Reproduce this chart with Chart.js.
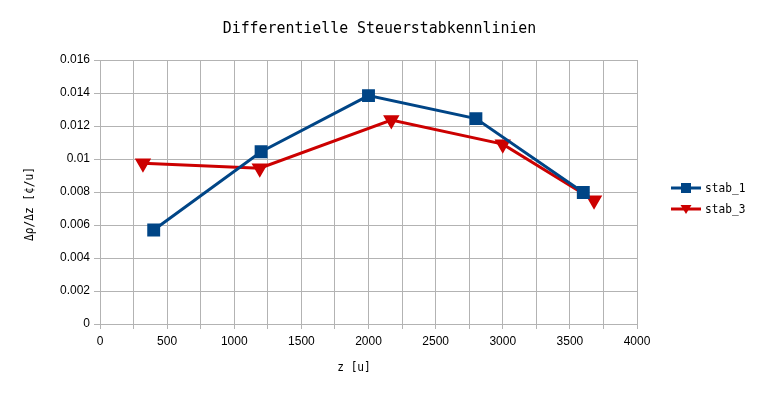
<!DOCTYPE html>
<html>
<head>
<meta charset="utf-8">
<script src="https://cdn.jsdelivr.net/npm/chart.js@4/dist/chart.umd.min.js"></script>
<style>
    html, body { margin: 0; padding: 0; background: #fff; }
    #chart { display: block; }
</style>
</head>
<body>
<canvas id="chart" width="759" height="398"></canvas>
<script>
// Data
const chartTitle = 'Differentielle Steuerstabkennlinien';
const xTitle = 'z [u]';
const yTitle = '\u0394\u03c1/\u0394z [\u00a2/u]';
const seriesNames = ['stab_1', 'stab_3'];
const zStab1 = [400, 1200, 2000, 2800, 3600];
const rhoStab1 = [0.0057, 0.01044, 0.01384, 0.01245, 0.00797];
const zStab3 = [320, 1190, 2170, 3000, 3680];
const rhoStab3 = [0.00974, 0.00944, 0.01236, 0.0109, 0.0075];
const xTicks = [0, 500, 1000, 1500, 2000, 2500, 3000, 3500, 4000];
const yTicks = [0, 0.002, 0.004, 0.006, 0.008, 0.01, 0.012, 0.014, 0.016];

const BLUE = '#004586';
const RED = '#cc0000';
const GRID = '#b3b3b3';
const MONO = "'DejaVu Sans Mono', monospace";
const SANS = "'Liberation Sans', Arial, sans-serif";

const toPoints = (xs, ys) => xs.map((x, i) => ({ x, y: ys[i] }));

// narrow mono text, like the office export
const monoText = (c, text, x, y, size, squeeze, align) => {
    c.save();
    c.translate(x, y);
    c.scale(squeeze, 1);
    c.font = size + 'px ' + MONO;
    c.textAlign = align || 'center';
    c.textBaseline = 'middle';
    c.fillText(text, 0, 0);
    c.restore();
};

// Title, axis titles and the legend, placed like the original chart
const extrasPlugin = {
    id: 'extras',
    afterDraw(chart) {
        const c = chart.ctx;
        c.save();
        c.fillStyle = '#000';
        monoText(c, chartTitle, 379.5, 28.5, 16, 0.93);
        monoText(c, xTitle, 354, 368, 13, 0.86);
        c.save();
        c.translate(30, 204);
        c.rotate(-Math.PI / 2);
        monoText(c, yTitle, 0, 0, 13, 0.86);
        c.restore();

        // legend
        chart.data.datasets.forEach((ds, i) => {
            const y = 188 + i * 21;
            c.strokeStyle = ds.borderColor;
            c.lineWidth = 3;
            c.beginPath(); c.moveTo(671, y); c.lineTo(701, y); c.stroke();
            c.fillStyle = ds.borderColor;
            c.beginPath();
            if (ds.pointStyle === 'rect') {
                c.rect(681, y - 5, 10, 10);
            } else {
                c.moveTo(680.5, y - 4); c.lineTo(691.5, y - 4); c.lineTo(686, y + 5);
                c.closePath();
            }
            c.fill();
            c.fillStyle = '#000';
            monoText(c, ds.label, 705, y + 0.5, 13, 0.86, 'left');
        });
        c.restore();
    }
};

new Chart(document.getElementById('chart'), {
    type: 'line',
    data: {
        datasets: [
            {
                label: seriesNames[0],
                data: toPoints(zStab1, rhoStab1),
                borderColor: BLUE, backgroundColor: BLUE,
                borderWidth: 3, pointStyle: 'rect', pointRadius: 7, pointHoverRadius: 7,
                tension: 0
            },
            {
                label: seriesNames[1],
                data: toPoints(zStab3, rhoStab3),
                borderColor: RED, backgroundColor: RED,
                borderWidth: 3, pointStyle: 'triangle', rotation: 180, pointRadius: 6.5, pointHoverRadius: 6.5,
                tension: 0
            }
        ]
    },
    options: {
        responsive: false,
        animation: false,
        layout: { padding: { left: 0, right: 122, top: 60, bottom: 0 } },
        scales: {
            x: {
                type: 'linear', min: 0, max: 4000,
                afterBuildTicks: (s) => {
                    // minor grid every 250, labels only on the 500 steps
                    const t = [];
                    for (let v = 0; v <= 4000; v += 250) t.push({ value: v });
                    s.ticks = t;
                },
                afterFit: (s) => { s.height = 74; },
                border: { color: GRID, width: 1 },
                grid: { color: GRID, tickLength: 5, tickColor: GRID },
                ticks: {
                    autoSkip: false, maxRotation: 0, padding: 5,
                    color: '#000', font: { family: SANS, size: 12 },
                    callback: (v) => xTicks.includes(v) ? String(v) : ''
                }
            },
            y: {
                min: 0, max: 0.016,
                afterBuildTicks: (s) => { s.ticks = yTicks.map(v => ({ value: v })); },
                afterFit: (s) => { s.width = 100; },
                border: { color: GRID, width: 1 },
                grid: { color: GRID, tickLength: 6, tickColor: GRID },
                ticks: {
                    padding: 4, color: '#000', font: { family: SANS, size: 12 },
                    callback: (v) => String(Number(v.toFixed(3)))
                }
            }
        },
        plugins: {
            legend: { display: false },
            tooltip: { enabled: false },
            title: { display: false }
        }
    },
    plugins: [extrasPlugin]
});
</script>
</body>
</html>
